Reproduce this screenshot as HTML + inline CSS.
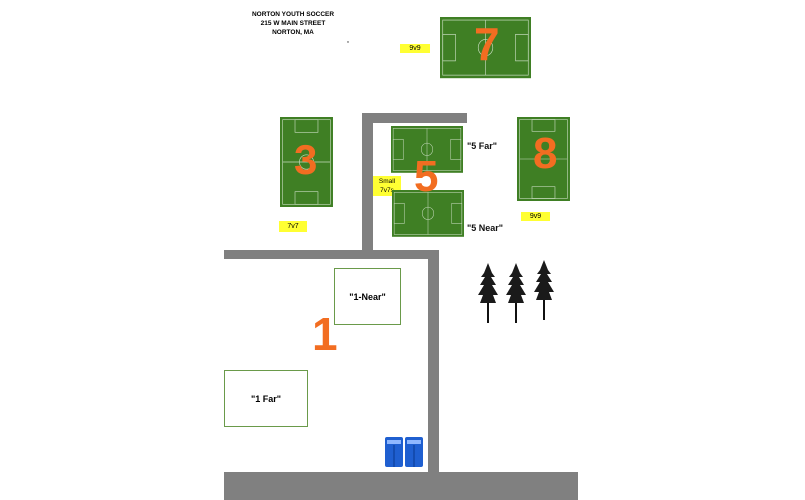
<!DOCTYPE html>
<html><head><meta charset="utf-8"><style>
html,body{margin:0;padding:0;background:#fff;}
body{width:805px;height:500px;position:relative;overflow:hidden;font-family:"Liberation Sans",sans-serif;}
.r{position:absolute;background:#808080;}
.y{position:absolute;background:#ffff33;font-size:7px;text-align:center;color:#000;}
.t{position:absolute;font-size:9px;font-weight:bold;color:#111;}
.n{position:absolute;color:#f26d21;font-weight:bold;font-family:"Liberation Sans",sans-serif;}
.b{position:absolute;border:1.5px solid #6a9a4a;box-sizing:border-box;display:flex;align-items:center;justify-content:center;font-size:9px;font-weight:bold;}
svg{position:absolute;}
</style></head><body>
<div style="position:absolute;left:250px;top:10px;width:86px;text-align:center;font-size:6.5px;font-weight:bold;line-height:9px;">NORTON YOUTH SOCCER<br>215 W MAIN STREET<br>NORTON, MA</div>
<div class="y" style="left:400px;top:44px;width:30px;height:9px;line-height:9px;">9v9</div>
<div class="y" style="left:279px;top:221px;width:28px;height:11px;line-height:11px;">7v7</div>
<div class="y" style="left:521px;top:212px;width:29px;height:9px;line-height:9px;">9v9</div>
<div class="y" style="left:373px;top:176px;width:28px;height:20px;font-size:6.5px;line-height:9px;padding-top:1px;box-sizing:border-box;">Small<br>7v7s</div>

<div class="r" style="left:362px;top:113px;width:105px;height:10px;"></div>
<div class="r" style="left:362px;top:113px;width:11px;height:140px;"></div>
<div class="r" style="left:224px;top:250px;width:215px;height:9px;"></div>
<div class="r" style="left:428px;top:250px;width:11px;height:224px;"></div>
<div class="r" style="left:224px;top:472px;width:354px;height:28px;"></div>

<svg width="805" height="500" style="left:0;top:0;">
<defs>
<g id="fh"><rect width="100" height="60" fill="#3f7f24"/><g fill="none" stroke="#c8dcc0" stroke-width="0.7"><rect x="3" y="3" width="94" height="54"/><line x1="50" y1="3" x2="50" y2="57"/><circle cx="50" cy="30" r="8"/><rect x="3" y="17" width="14" height="26"/><rect x="83" y="17" width="14" height="26"/></g></g>
<g id="fv"><rect width="60" height="100" fill="#3f7f24"/><g fill="none" stroke="#c8dcc0" stroke-width="0.7"><rect x="3" y="3" width="54" height="94"/><line x1="3" y1="50" x2="57" y2="50"/><circle cx="30" cy="50" r="8"/><rect x="17" y="3" width="26" height="14"/><rect x="17" y="83" width="26" height="14"/></g></g>
<g id="tree"><line x1="10" y1="3" x2="10" y2="60" stroke="#111" stroke-width="2"/>
<polygon points="10,0 6,10 3,14 7,14 2,22 6,22 0,32 5,32 2,40 18,40 15,32 20,32 14,22 18,22 13,14 17,14 14,10" fill="#1a1a1a"/></g>
<g id="wc"><rect width="18" height="30" rx="2" fill="#1f5fd0"/><rect x="2" y="3" width="14" height="4" fill="#8fb8ff"/><line x1="9" y1="8" x2="9" y2="30" stroke="#0a3a90"/></g>
</defs>
<use href="#fh" transform="translate(440,17) scale(0.91,1.02)"/>
<use href="#fv" transform="translate(280,117) scale(0.883,0.9)"/>
<use href="#fh" transform="translate(391,126) scale(0.72,0.78)"/>
<use href="#fh" transform="translate(392,190) scale(0.72,0.78)"/>
<use href="#fv" transform="translate(517,117) scale(0.883,0.84)"/>
<use href="#tree" transform="translate(478,263)"/>
<use href="#tree" transform="translate(506,263)"/>
<use href="#tree" transform="translate(534,260)"/>
<use href="#wc" transform="translate(385,437)"/>
<use href="#wc" transform="translate(405,437)"/>
<circle cx="348" cy="42" r="0.7" fill="#333"/>
</svg>

<div class="n" style="left:474px;top:21px;font-size:46px;line-height:46px;">7</div>
<div class="n" style="left:294px;top:139px;font-size:42px;line-height:42px;">3</div>
<div class="n" style="left:533px;top:132px;font-size:44px;line-height:44px;">8</div>
<div class="n" style="left:414px;top:155px;font-size:44px;line-height:44px;">5</div>
<div class="n" style="left:312px;top:311px;font-size:46px;line-height:46px;">1</div>
<div class="t" style="left:467px;top:141px;">"5 Far"</div>
<div class="t" style="left:467px;top:223px;">"5 Near"</div>
<div class="b" style="left:334px;top:268px;width:67px;height:57px;">"1-Near"</div>
<div class="b" style="left:224px;top:370px;width:84px;height:57px;">"1 Far"</div>
</body></html>
